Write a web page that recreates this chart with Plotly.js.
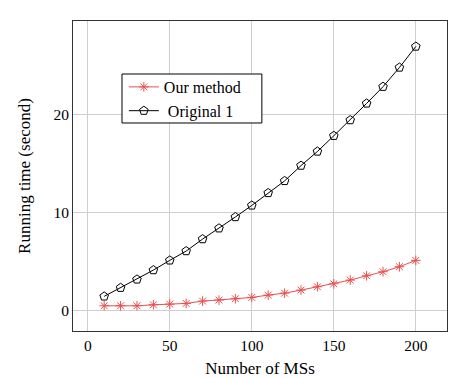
<!DOCTYPE html>
<html>
<head>
<meta charset="utf-8">
<script src="https://cdn.plot.ly/plotly-3.0.1.min.js"></script>
<style>html,body{margin:0;padding:0;background:#fff;}#chart{width:466px;height:378px;}</style>
</head>
<body>
<div id="chart"></div>
<script>
const xValues = [10,20,30,40,50,60,70,80,90,100,110,120,130,140,150,160,170,180,190,200];
const ourMethod = [0.47,0.47,0.47,0.57,0.64,0.71,0.95,1.05,1.19,1.32,1.56,1.76,2.07,2.41,2.71,3.09,3.53,3.94,4.45,5.1];
const original1 = [1.43,2.31,3.16,4.11,5.1,6.05,7.27,8.37,9.52,10.7,11.97,13.2,14.76,16.2,17.8,19.4,21.1,22.8,24.76,26.9];
const seriesNames = ["Our method", "\u00a0Original 1"];
const xTicks = [0,50,100,150,200];
const yTicks = [0,10,20];

const font = {family: "Liberation Serif, DejaVu Serif, serif", size: 15.5, color: "#000"};
const traces = [
  {x: xValues, y: ourMethod, name: seriesNames[0], mode: "lines+markers", type: "scatter",
   line: {color: "#e8504f", width: 1},
   marker: {symbol: "asterisk-open", size: 8, color: "#e8504f", line: {color: "#e8504f", width: 1}}},
  {x: xValues, y: original1, name: seriesNames[1], mode: "lines+markers", type: "scatter",
   line: {color: "#000", width: 1},
   marker: {symbol: "pentagon-open", size: 9, color: "#000", line: {color: "#000", width: 1}}}
];
const layout = {
  width: 466, height: 378,
  margin: {l: 73, r: 19, t: 21, b: 47},
  paper_bgcolor: "#fff", plot_bgcolor: "#fff",
  font: font,
  showlegend: true,
  shapes: [{type: "rect", xref: "paper", yref: "paper", x0: 0.131, x1: 0.505, y0: 0.671, y1: 0.829,
    line: {color: "#000", width: 1}, fillcolor: "#fff", layer: "above"}],
  legend: {x: 0.136, y: 0.842, xanchor: "left", yanchor: "top", bgcolor: "rgba(0,0,0,0)",
    borderwidth: 0, font: {family: font.family, size: 16, color: "#000"},
    tracegroupgap: 0, itemwidth: 30},
  xaxis: {range: [-9, 219], tickvals: xTicks, showgrid: true, gridcolor: "#cfcfcf", gridwidth: 1,
    zeroline: false, showline: true, linecolor: "#333", linewidth: 1, mirror: true,
    ticks: "", tickfont: {size: 15.5},
    title: {text: "Number of MSs", font: {size: 17}, standoff: 17}},
  yaxis: {range: [-2.1, 29.5], tickvals: yTicks, showgrid: true, gridcolor: "#cfcfcf", gridwidth: 1,
    zeroline: false, showline: true, linecolor: "#333", linewidth: 1, mirror: true,
    ticks: "", tickfont: {size: 15.5},
    title: {text: "Running time (second)", font: {size: 17}, standoff: 18}}
};
Plotly.newPlot("chart", traces, layout, {displayModeBar: false, staticPlot: true});
</script>
</body>
</html>
